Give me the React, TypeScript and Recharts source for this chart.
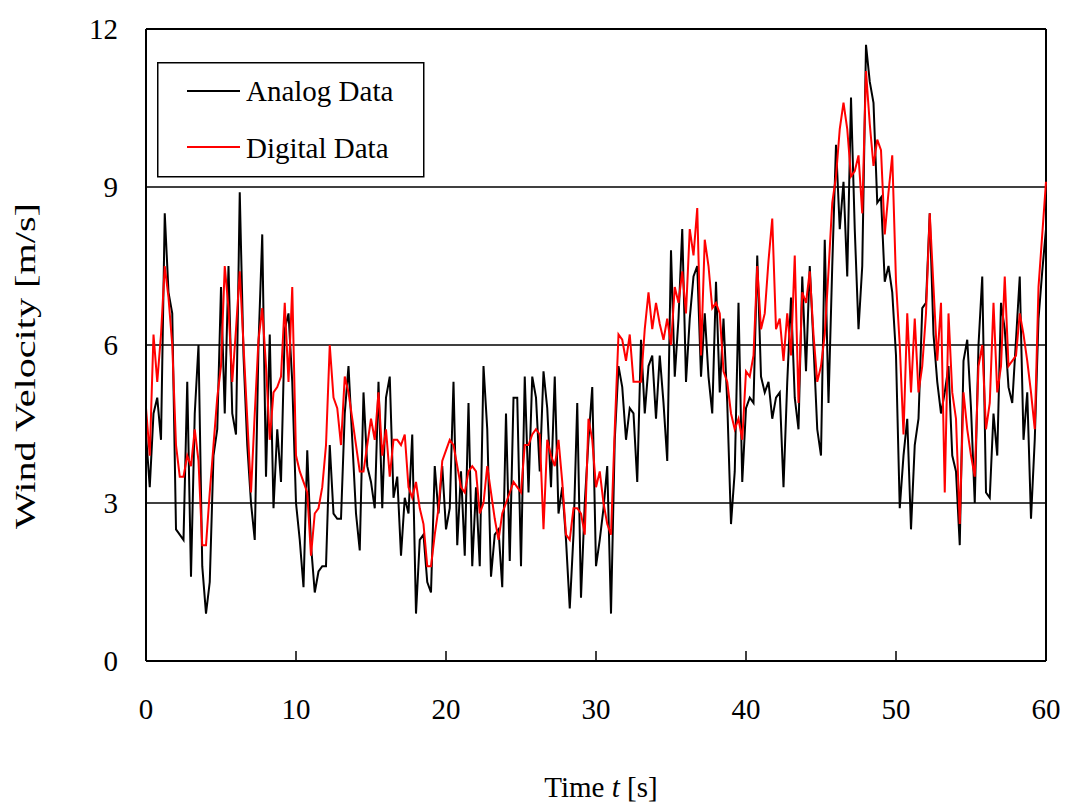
import React from 'react';
import { LineChart, Line, XAxis, YAxis, CartesianGrid, ReferenceLine, Legend } from 'recharts';

// wind velocity samples every 0.25 s, grouped in 10 s blocks (t = 10k ... 10k + 9.75)
const sampleStep = 0.25;

const analog0 = [
  4.3, 3.3, 4.7, 5.0, 4.2, 8.5, 7.0, 6.6, 2.5, 2.4,
  2.3, 5.3, 1.6, 4.7, 6.0, 1.8, 0.9, 1.5, 3.9, 4.4,
  7.1, 4.7, 7.5, 4.7, 4.3, 8.9, 5.8, 4.1, 3.0, 2.3,
  6.0, 8.1, 3.5, 6.2, 2.9, 4.4, 3.4, 6.3, 6.6, 5.3,
];
const analog1 = [
  3.0, 2.3, 1.4, 4.0, 2.2, 1.3, 1.7, 1.8, 1.8, 4.1,
  2.8, 2.7, 2.7, 4.7, 5.6, 4.2, 2.8, 2.1, 5.1, 3.7,
  3.4, 2.9, 5.3, 2.9, 5.0, 5.4, 3.1, 3.5, 2.0, 3.1,
  2.8, 4.3, 0.9, 2.3, 2.4, 1.5, 1.3, 3.7, 2.8, 3.7,
];
const analog2 = [
  2.5, 2.9, 5.3, 2.2, 3.6, 2.0, 4.9, 1.8, 3.3, 1.8,
  5.6, 4.4, 1.6, 2.4, 2.5, 1.4, 4.7, 1.9, 5.0, 5.0,
  1.8, 5.4, 3.2, 5.4, 5.0, 3.6, 5.5, 4.8, 3.3, 5.4,
  2.8, 3.3, 2.3, 1.0, 2.4, 4.9, 1.2, 3.0, 4.2, 5.2,
];
const analog3 = [
  1.8, 2.3, 2.9, 3.7, 0.9, 4.2, 5.6, 5.2, 4.2, 4.8,
  4.7, 3.4, 6.1, 4.7, 5.6, 5.8, 4.6, 5.8, 4.9, 3.8,
  7.8, 5.4, 6.5, 8.2, 5.3, 6.5, 7.3, 7.5, 5.4, 6.6,
  5.4, 4.7, 7.2, 5.1, 6.5, 4.9, 2.6, 3.6, 6.8, 3.4,
];
const analog4 = [
  4.8, 5.0, 4.9, 7.7, 5.4, 5.1, 5.3, 4.6, 5.0, 5.1,
  3.3, 5.3, 6.9, 5.0, 4.4, 7.3, 5.5, 7.5, 6.0, 4.4,
  3.9, 8.0, 4.9, 7.5, 9.8, 8.2, 9.1, 7.3, 10.7, 8.2,
  6.3, 7.5, 11.7, 11.0, 10.6, 8.7, 8.8, 7.2, 7.5, 7.0,
];
const analog5 = [
  5.8, 2.9, 3.9, 4.6, 2.5, 4.1, 4.6, 6.7, 6.8, 8.5,
  6.2, 5.3, 4.7, 5.1, 5.6, 3.9, 3.6, 2.2, 5.7, 6.1,
  4.8, 3.0, 6.0, 7.3, 3.2, 3.1, 4.7, 3.9, 6.8, 6.3,
  5.2, 4.9, 6.1, 7.3, 4.2, 5.1, 2.7, 4.2, 6.5, 7.4,
  8.2,
];

const digital0 = [
  4.8, 3.9, 6.2, 5.3, 6.2, 7.5, 6.9, 6.0, 4.1, 3.5,
  3.5, 3.9, 3.7, 4.4, 3.8, 2.2, 2.2, 3.2, 4.1, 5.0,
  5.6, 7.5, 6.7, 5.3, 6.3, 7.4, 6.0, 4.6, 3.2, 4.7,
  6.1, 6.7, 5.6, 4.2, 5.1, 5.2, 5.4, 6.8, 5.3, 7.1,
];
const digital1 = [
  3.9, 3.6, 3.4, 3.2, 2.0, 2.8, 2.9, 3.3, 4.1, 6.0,
  5.0, 4.8, 4.1, 5.4, 5.1, 4.6, 4.1, 3.6, 3.6, 4.1,
  4.6, 4.2, 5.1, 3.9, 4.4, 3.5, 4.2, 4.2, 4.1, 4.3,
  3.3, 3.1, 3.4, 2.9, 2.6, 1.8, 1.8, 2.4, 2.9, 3.8,
];
const digital2 = [
  4.0, 4.2, 4.1, 3.7, 3.3, 3.2, 3.6, 3.7, 3.6, 2.8,
  3.0, 3.7, 3.2, 2.7, 2.3, 2.8, 3.0, 3.2, 3.4, 3.3,
  3.2, 4.1, 4.1, 4.3, 4.4, 4.3, 2.5, 4.2, 3.9, 3.7,
  4.2, 3.4, 2.4, 2.3, 2.9, 2.9, 2.8, 2.4, 4.6, 4.2,
];
const digital3 = [
  3.3, 3.6, 3.0, 2.6, 2.4, 4.4, 6.2, 6.1, 5.7, 6.2,
  5.3, 5.3, 5.3, 6.3, 7.0, 6.3, 6.8, 6.4, 6.1, 6.5,
  6.0, 7.1, 6.8, 7.4, 6.6, 8.2, 7.7, 8.6, 5.8, 8.0,
  7.5, 6.7, 6.8, 6.6, 5.5, 5.3, 4.7, 4.4, 4.6, 4.2,
];
const digital4 = [
  5.5, 5.4, 5.8, 7.5, 6.3, 6.6, 7.6, 8.4, 6.3, 6.5,
  5.7, 6.6, 5.8, 7.7, 4.9, 7.0, 6.8, 7.4, 6.2, 5.3,
  5.6, 6.2, 7.4, 8.7, 9.2, 10.1, 10.6, 10.1, 9.2, 9.3,
  9.6, 8.5, 11.2, 10.2, 9.4, 9.9, 9.7, 8.1, 8.9, 9.6,
];
const digital5 = [
  7.2, 6.0, 4.3, 6.6, 5.1, 6.5, 5.1, 5.6, 6.6, 8.5,
  7.1, 5.7, 6.8, 3.2, 6.6, 5.1, 4.6, 2.6, 5.1, 4.4,
  3.9, 3.5, 5.6, 6.0, 4.4, 4.9, 6.8, 5.1, 5.6, 7.3,
  5.6, 5.7, 5.8, 6.6, 6.2, 5.7, 5.1, 4.4, 7.1, 8.1,
  9.1,
];

const analog = [...analog0, ...analog1, ...analog2, ...analog3, ...analog4, ...analog5];
const digital = [...digital0, ...digital1, ...digital2, ...digital3, ...digital4, ...digital5];

const timeTicks = [0, 10, 20, 30, 40, 50, 60];
const velocityTicks = [0, 3, 6, 9, 12];

const data = analog.map((v, i) => ({ t: i * sampleStep, analog: v, digital: digital[i] }));

const FONT = '"Liberation Serif", "Times New Roman", serif';

const TimeTick = (props: any) => {
  const { x, y, payload } = props;
  const inner = payload.value > 0 && payload.value < 60;
  return (
    <g>
      {inner && <line x1={x} x2={x} y1={y} y2={y - 10} stroke="#000" strokeWidth={1.5} />}
      <text x={x} y={y + 58} textAnchor="middle" fontFamily={FONT} fontSize={29} fill="#000">
        {payload.value}
      </text>
    </g>
  );
};

const timeLabel = () => (
  <text x={593} y={789} textAnchor="middle" fontFamily={FONT} fontSize={29} fill="#000">
    Time <tspan fontStyle="italic">t</tspan> [s]
  </text>
);

const velocityLabel = () => (
  <text
    x={27}
    y={358}
    transform="rotate(-90 27 358)"
    textAnchor="middle"
    textLength={326}
    lengthAdjust="spacingAndGlyphs"
    fontFamily={FONT}
    fontSize={29}
    fill="#000"
  >
    Wind Velocity [m/s]
  </text>
);

const renderLegend = () => (
  <svg width={268} height={116} style={{ display: 'block', overflow: 'visible' }}>
    <rect x={0.75} y={0.75} width={266} height={114} fill="#fff" stroke="#000" strokeWidth={1.5} />
    <line x1={30} x2={83} y1={29} y2={29} stroke="#000" strokeWidth={2} />
    <text x={89} y={39} fontFamily={FONT} fontSize={29} fill="#000">Analog Data</text>
    <line x1={30} x2={83} y1={85} y2={85} stroke="#ff0000" strokeWidth={2} />
    <text x={89} y={96} fontFamily={FONT} fontSize={29} fill="#000">Digital Data</text>
  </svg>
);

export default function App() {
  return (
    <LineChart
      width={1062}
      height={800}
      data={data}
      margin={{ top: 21, right: 24, bottom: 0, left: 0 }}
      style={{ background: '#fff' }}
    >
      <CartesianGrid vertical={false} stroke="#000" strokeWidth={1.5} />
      <XAxis
        dataKey="t"
        type="number"
        domain={[0, 60]}
        ticks={timeTicks}
        height={147}
        tickSize={0}
        tickMargin={0}
        tickLine={false}
        axisLine={{ stroke: '#000', strokeWidth: 2 }}
        tick={<TimeTick />}
        label={timeLabel}
      />
      <YAxis
        type="number"
        domain={[0, 12]}
        ticks={velocityTicks}
        width={138}
        tickSize={0}
        tickMargin={28}
        tickLine={false}
        axisLine={{ stroke: '#000', strokeWidth: 2 }}
        tick={{ fill: '#000', fontFamily: FONT, fontSize: 29 }}
        label={velocityLabel}
      />
      <ReferenceLine y={12} stroke="#000" strokeWidth={2} />
      <ReferenceLine x={60} stroke="#000" strokeWidth={2} />
      <Legend
        content={renderLegend}
        wrapperStyle={{ position: 'absolute', left: 149, top: 54, width: 0, height: 0, overflow: 'visible' }}
      />
      <Line
        dataKey="analog"
        name="Analog Data"
        stroke="#000"
        strokeWidth={2}
        dot={false}
        isAnimationActive={false}
      />
      <Line
        dataKey="digital"
        name="Digital Data"
        stroke="#ff0000"
        strokeWidth={2}
        dot={false}
        isAnimationActive={false}
      />
    </LineChart>
  );
}
